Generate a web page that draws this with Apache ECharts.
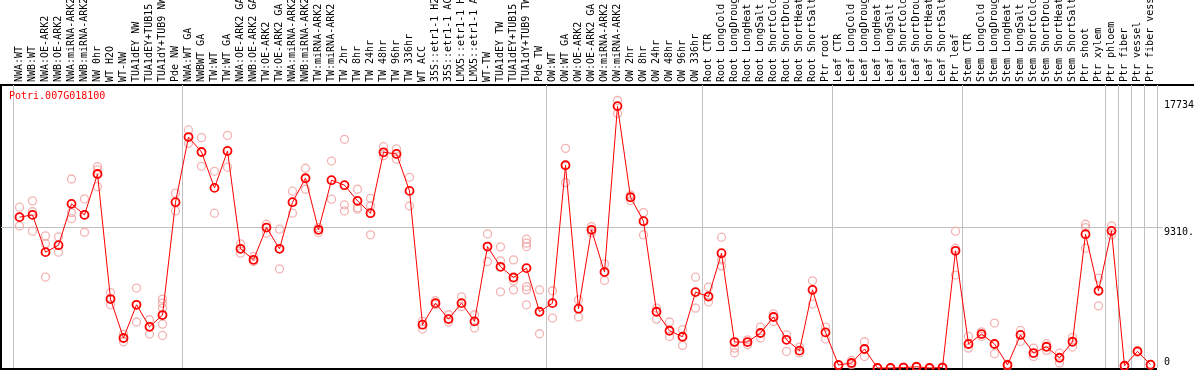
<!DOCTYPE html>
<html><head><meta charset="utf-8">
<script src="https://cdn.jsdelivr.net/npm/echarts@6/dist/echarts.min.js"></script>
<style>html,body{margin:0;padding:0;background:#fff}#c{width:1194px;height:370px}</style>
</head><body><div id="c"></div>
<script>
const geneId = 'Potri.007G018100';

const categories = [
  'NWA:WT','NWB:WT','NWA:OE-ARK2','NWB:OE-ARK2','NWA:miRNA-ARK2','NWB:miRNA-ARK2','NW 0hr','WT H2O','WT-NW',
  'TUA1dEY NW','TUA1dEY+TUB15 NW','TUA1dY+TUB9 NW','Pde NW',
  'NWA:WT GA','NWBWT GA','TW:WT','TW:WT GA','NWA:OE-ARK2 GA','NWB:OE-ARK2 GA','TW:OE-ARK2','TW:OE-ARK2 GA',
  'NWA:miRNA-ARK2 GA','NWB:miRNA-ARK2 GA','TW:miRNA-ARK2','TW:miRNA-ARK2 GA',
  'TW 2hr','TW 8hr','TW 24hr','TW 48hr','TW 96hr','TW 336hr','WT ACC',
  '35S::etr1-1 H2O','35S::etr1-1 ACC','LMX5::etr1-1 H2O','LMX5::etr1-1 ACC',
  'WT-TW','TUA1dEY TW','TUA1dEY+TUB15 TW','TUA1dY+TUB9 TW','Pde TW',
  'OW:WT','OW:WT GA','OW:OE-ARK2','OW:OE-ARK2 GA','OW:miRNA-ARK2','OW:miRNA-ARK2 GA',
  'OW 2hr','OW 8hr','OW 24hr','OW 48hr','OW 96hr','OW 336hr',
  'Root CTR','Root LongCold','Root LongDrought','Root LongHeat','Root LongSalt','Root ShortCold','Root ShortDrought','Root ShortHeat','Root ShortSalt','Ptr root',
  'Leaf CTR','Leaf LongCold','Leaf LongDrought','Leaf LongHeat','Leaf LongSalt','Leaf ShortCold','Leaf ShortDrought','Leaf ShortHeat','Leaf ShortSalt','Ptr leaf',
  'Stem CTR','Stem LongCold','Stem LongDrought','Stem LongHeat','Stem LongSalt','Stem ShortCold','Stem ShortDrought','Stem ShortHeat','Stem ShortSalt','Ptr shoot',
  'Ptr xylem','Ptr phloem','Ptr fiber','Ptr vessel','Ptr fiber vessel'
];

const meanValues = [
  10000,10150,7680,8140,10880,10150,12860,4570,1990,4190,2730,3510,10990,
  15310,14320,11940,14390,7900,7170,9310,7900,10990,12580,9160,12450,
  12120,11080,10260,14300,14190,11740,2870,4300,3240,4300,3090,
  8050,6710,6000,6620,3730,
  4300,13440,3930,9160,6360,17360,11320,9730,3730,2470,2070,5030,
  4740,7610,1720,1720,2320,3380,1870,1150,5180,2360,
  200,330,1260,0,0,30,80,0,30,7770,
  1590,2250,1590,200,2190,990,1410,680,1740,8870,
  5120,9090,150,1100,220
];

const replicateValues = [
  [10660,9420,10010],[11080,10370,9070],[8760,8230,6030],[8690,7680],[12530,10300,9900],[11210,9000,10150],
  [13350,13130,12020],[5000,4190],[2250,1740],[5300,3050],[3200,2250],[4570,4300,3970,2910,2160],[11590,10410],
  [15780,14900],[15270,13370],[13040,10260],[15420,13310],[8230,7610],[7390,7060],[9530,8940],[9200,6570],
  [11720,10260],[13240,11850],[9310,8980],[13720,11190],
  [15160,10810,10410],[11850,10630,10530],[11250,10740,8830],[14670,14070],[14520,13840],[12640,10740],[3090,2580],
  [4460,4200],[3530,3050],[4720,4080],[3530,2650],
  [8890,7060],[8030,7100,5050],[7170,5780,5180],[8540,8280,8050,5400,5180,4190],[5180,2270],
  [5120,3310],[14560,12290],[4520,3380],[9370,8960],[6900,5800],[17734,16880],
  [11470,11100],[10300,8820],[3970,3240],[3050,2090],[2540,1500],[6020,3970],
  [5360,4370],[8670,7170,6770],[1320,1010],[1870,1540],[2710,1990],[3590,3090],[2200,1100],[1390,990],[5780,4240],[2710,1920],
  [200,180],[500,220],[1740,770],[0,0],[0,0],[60,0],[120,40],[0,0],[60,0],[9070,7940,6160],
  [2090,1320],[2090,2400],[2980,950],[260,120],[2490,1760],[1320,770],[1610,1170],[990,330],[2030,1390],[9530,9310,7940],
  [5960,4120],[9420,8820],[150,100],[1150,1050],[200,230]
];

const separatorIndices = [0,13,41,53,63,73,84,85,86,87];
const yTickValues = [0, 9310, 17734];
const yTickLabels = ['0', '9310.', '17734'];

const FONT = '"DejaVu Sans Mono", monospace';
const sepSet = new Set(separatorIndices);
const repData = [];
replicateValues.forEach((arr, i) => arr.forEach(v => repData.push([i, v])));

const chart = echarts.init(document.getElementById('c'), null, {renderer: 'canvas'});
chart.setOption({
  animation: false,
  backgroundColor: '#ffffff',
  title: {
    text: geneId, left: 9, top: 91, padding: 0,
    textStyle: {color: '#ff0000', fontFamily: FONT, fontSize: 10, fontWeight: 'normal'}
  },
  grid: [
    {left: 13, right: 37, top: 85, bottom: 2, containLabel: false, outerBoundsMode: 'none'},
    {left: 1, right: 31, top: 87, bottom: 2, containLabel: false, outerBoundsMode: 'none'}
  ],
  xAxis: [
    {
      gridIndex: 0, type: 'category', position: 'top', data: categories, boundaryGap: true,
      axisLine: {show: false},
      axisTick: {show: true, interval: (i) => sepSet.has(i), length: 85, lineStyle: {color: '#c0c0c0', width: 1}},
      splitLine: {show: true, interval: (i) => sepSet.has(i), lineStyle: {color: '#c0c0c0', width: 1}},
      axisLabel: {interval: 0, rotate: 90, margin: 3, fontFamily: FONT, fontSize: 10, color: '#000'}
    },
    {gridIndex: 1, type: 'value', show: false, min: 0, max: 1}
  ],
  yAxis: [
    {gridIndex: 0, type: 'value', min: 0, max: 18760, show: false},
    {
      gridIndex: 1, type: 'value', position: 'right', min: 0, max: 18620, interval: 9310,
      axisLine: {show: false}, axisTick: {show: false},
      splitLine: {show: true, showMinLine: false, showMaxLine: false, lineStyle: {color: '#c0c0c0', width: 1}},
      axisLabel: {
        customValues: yTickValues, margin: 1, color: '#000', fontFamily: FONT, fontSize: 10,
        formatter: (v) => {
          const k = yTickValues.indexOf(v);
          const t = k >= 0 ? yTickLabels[k] : '';
          return v === 0 ? '{z|' + t + '}' : '{a|' + t + '}';
        },
        rich: {
          a: {padding: [10, 0, 0, 0], fontFamily: FONT, fontSize: 10, color: '#000'},
          z: {padding: [0, 0, 12, 0], fontFamily: FONT, fontSize: 10, color: '#000'}
        }
      }
    }
  ],
  graphic: [
    {type: 'line', silent: true, shape: {x1: 0, y1: 85, x2: 1194, y2: 85}, style: {stroke: '#000', lineWidth: 2}},
    {type: 'line', silent: true, shape: {x1: 1, y1: 85, x2: 1, y2: 370}, style: {stroke: '#000', lineWidth: 2}},
    {type: 'line', silent: true, shape: {x1: 0, y1: 369, x2: 1157, y2: 369}, style: {stroke: '#000', lineWidth: 2}}
  ],
  series: [
    {
      type: 'scatter', xAxisIndex: 0, yAxisIndex: 0, data: repData, symbol: 'circle', symbolSize: 8,
      itemStyle: {color: 'rgba(0,0,0,0)', borderColor: '#f0a0a0', borderWidth: 1.3}, z: 2, silent: true
    },
    {
      type: 'line', xAxisIndex: 0, yAxisIndex: 0, data: meanValues, symbol: 'circle', symbolSize: 8,
      showAllSymbol: true, clip: false,
      lineStyle: {color: '#ff0000', width: 1},
      itemStyle: {color: 'rgba(0,0,0,0)', borderColor: '#ff0000', borderWidth: 1.8}, z: 3, silent: true
    }
  ]
});
</script></body></html>
